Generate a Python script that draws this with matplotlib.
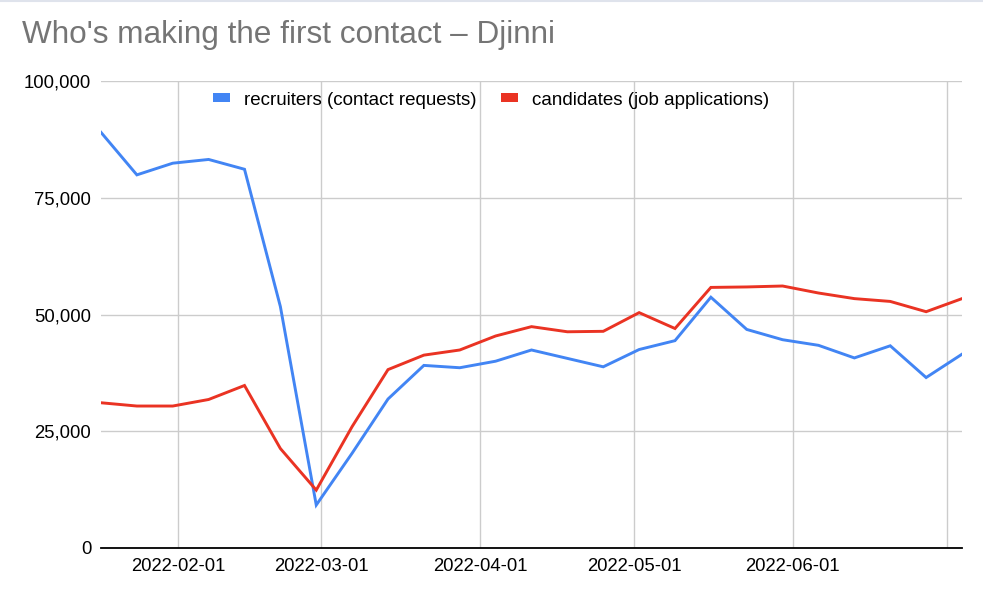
import matplotlib.pyplot as plt
import matplotlib.dates as mdates
import matplotlib.ticker as mticker
from matplotlib.patches import Patch
from matplotlib.lines import Line2D
import pandas as pd

plt.rcParams['font.family'] = ['Liberation Sans', 'DejaVu Sans']

# weekly data (Mondays)
weeks = ['2022-01-17', '2022-01-24', '2022-01-31', '2022-02-07', '2022-02-14',
         '2022-02-21', '2022-02-28', '2022-03-07', '2022-03-14', '2022-03-21',
         '2022-03-28', '2022-04-04', '2022-04-11', '2022-04-18', '2022-04-25',
         '2022-05-02', '2022-05-09', '2022-05-16', '2022-05-23', '2022-05-30',
         '2022-06-06', '2022-06-13', '2022-06-20', '2022-06-27', '2022-07-04']
recruiters = [89000, 79900, 82400, 83200, 81100, 51700, 9200, 20300, 31900, 39100,
              38600, 40000, 42400, 40600, 38800, 42500, 44400, 53700, 46800, 44600,
              43400, 40700, 43300, 36500, 41500]
candidates = [31100, 30400, 30400, 31800, 34800, 21300, 12400, 26000, 38200, 41300,
              42400, 45400, 47400, 46300, 46400, 50400, 47000, 55800, 55900, 56100,
              54600, 53400, 52800, 50600, 53400]
month_ticks = ['2022-02-01', '2022-03-01', '2022-04-01', '2022-05-01', '2022-06-01', '2022-07-01']
month_labels = ['2022-02-01', '2022-03-01', '2022-04-01', '2022-05-01', '2022-06-01', '']
y_ticks = [0, 25000, 50000, 75000, 100000]

BLUE = '#4285F4'
RED = '#EA3323'

dates = pd.to_datetime(weeks)

fig = plt.figure(figsize=(9.83, 6), dpi=100)
ax = fig.add_axes([101/983, 52/600, 861/983, 467/600])

ax.plot(dates, recruiters, color=BLUE, lw=2.1, solid_joinstyle='miter')
ax.plot(dates, candidates, color=RED, lw=2.1, solid_joinstyle='miter')

ax.set_xlim(dates[0], dates[-1])
ax.set_ylim(0, 100000)
ax.set_yticks(y_ticks)
ax.yaxis.set_major_formatter(mticker.FuncFormatter(lambda v, p: f'{int(v):,}'))
ax.set_xticks(pd.to_datetime(month_ticks))
ax.set_xticklabels(month_labels)

ax.grid(True, color='#cccccc', lw=1)
ax.set_axisbelow(True)
for s in ['left', 'right', 'top']:
    ax.spines[s].set_visible(False)
ax.spines['bottom'].set_color('#000000')
ax.spines['bottom'].set_linewidth(1.3)
ax.spines['bottom'].set_zorder(5)
ax.tick_params(axis='both', length=0, labelsize=13.3, colors='#000000')
ax.tick_params(axis='y', pad=7)
ax.tick_params(axis='x', pad=7)

handles = [Patch(facecolor=BLUE, edgecolor='none'), Patch(facecolor=RED, edgecolor='none')]
ax.legend(handles, ['recruiters (contact requests)', 'candidates (job applications)'],
          loc='center', bbox_to_anchor=(0.453, 0.959), ncol=2, frameon=False,
          fontsize=13.5, handlelength=0.9, handleheight=0.35, handletextpad=0.75,
          columnspacing=1.3)

fig.text(22/983, 1 - 35/600, "Who's making the first contact – Djinni",
         fontsize=22.7, color='#757575', va='center', ha='left')

fig.add_artist(Line2D([0, 1], [0.998, 0.998], color='#dfe3ec', lw=1.5))

fig.savefig('out.png', dpi=100)
